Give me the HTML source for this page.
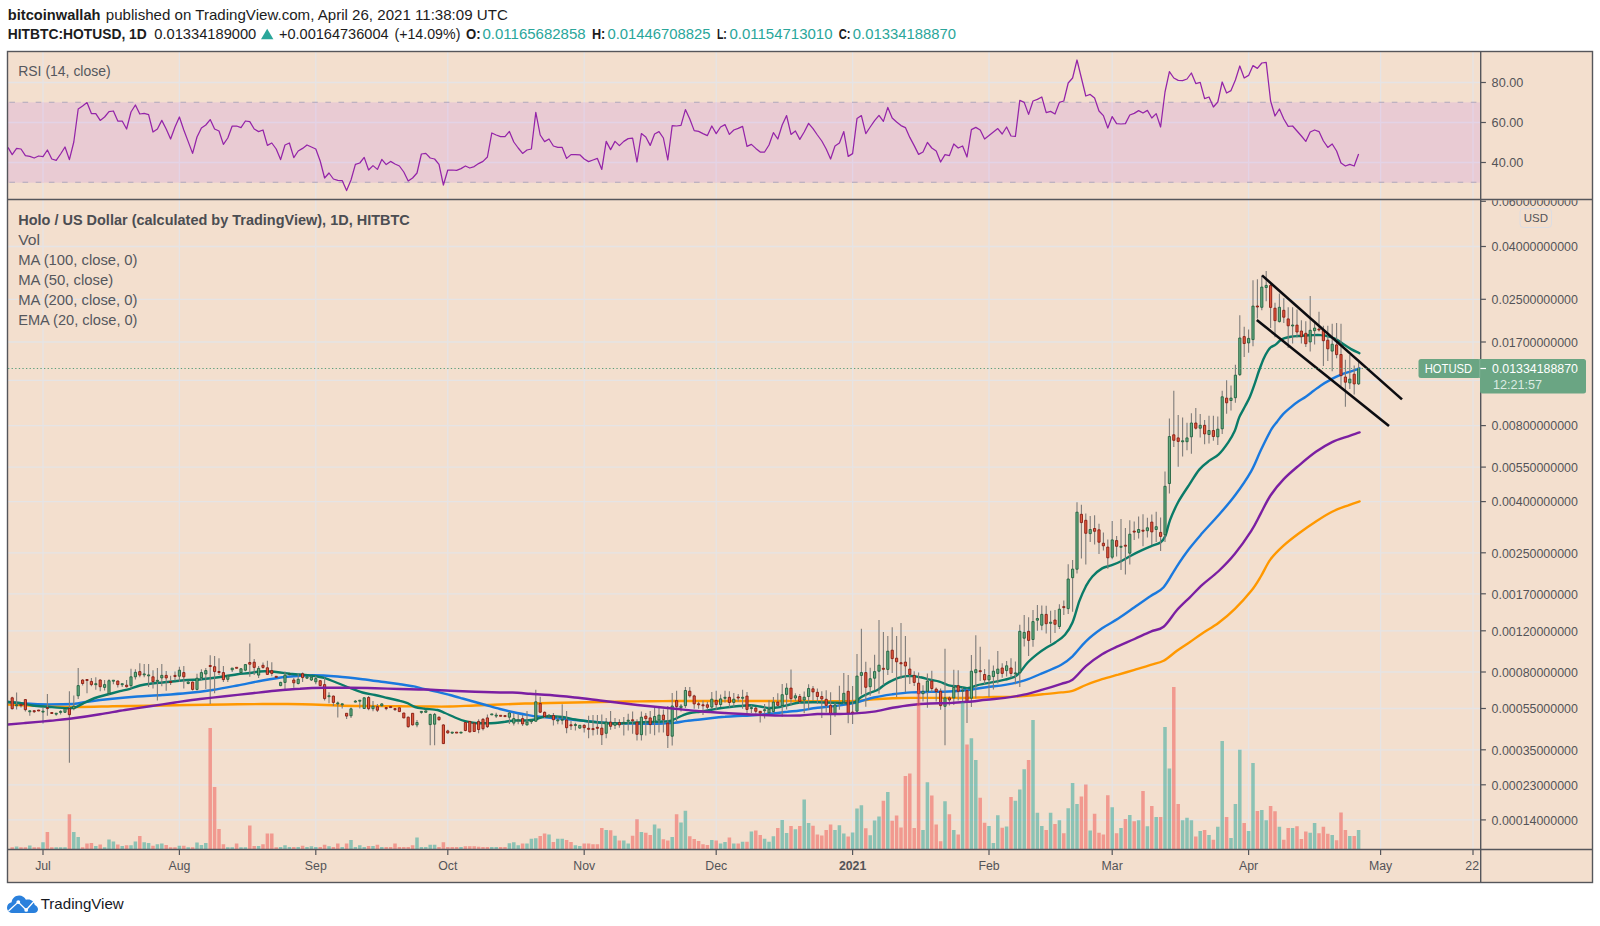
<!DOCTYPE html>
<html lang="en"><head><meta charset="utf-8"><title>HOTUSD chart</title>
<style>html,body{margin:0;padding:0;background:#fff;width:1600px;height:926px;overflow:hidden}</style></head>
<body>
<svg width="1600" height="926" viewBox="0 0 1600 926" style="position:absolute;left:0;top:0;display:block">
<rect x="0" y="0" width="1600" height="926" fill="#ffffff"/>
<rect x="7" y="51" width="1586" height="832" fill="#f3dfce"/>
<g stroke="#e5e4e5" stroke-width="1.3" fill="none">
<path d="M43.0 52V849"/>
<path d="M179.4 52V849"/>
<path d="M315.8 52V849"/>
<path d="M447.8 52V849"/>
<path d="M584.2 52V849"/>
<path d="M716.2 52V849"/>
<path d="M852.6 52V849"/>
<path d="M989.0 52V849"/>
<path d="M1112.2 52V849"/>
<path d="M1248.6 52V849"/>
<path d="M1380.6 52V849"/>
<path d="M1473.0 52V849"/>
<path d="M8 82.5H1480"/>
<path d="M8 122.5H1480"/>
<path d="M8 162.5H1480"/>
<path d="M8 246.5H1480"/>
<path d="M8 299.3H1480"/>
<path d="M8 342.0H1480"/>
<path d="M8 380.4H1480"/>
<path d="M8 425.6H1480"/>
<path d="M8 467.1H1480"/>
<path d="M8 501.6H1480"/>
<path d="M8 552.8H1480"/>
<path d="M8 593.8H1480"/>
<path d="M8 630.8H1480"/>
<path d="M8 672.0H1480"/>
<path d="M8 708.5H1480"/>
<path d="M8 749.8H1480"/>
<path d="M8 784.8H1480"/>
<path d="M8 819.9H1480"/>
</g>
<rect x="8" y="102.4" width="1472" height="80.3" fill="#e9cbd3"/>
<g stroke="#e3d3e6" stroke-width="1.3" fill="none">
<path d="M43.0 102V182"/>
<path d="M179.4 102V182"/>
<path d="M315.8 102V182"/>
<path d="M447.8 102V182"/>
<path d="M584.2 102V182"/>
<path d="M716.2 102V182"/>
<path d="M852.6 102V182"/>
<path d="M989.0 102V182"/>
<path d="M1112.2 102V182"/>
<path d="M1248.6 102V182"/>
<path d="M1380.6 102V182"/>
<path d="M1473.0 102V182"/>
<path d="M8 122.5H1480"/>
<path d="M8 162.5H1480"/>
</g>
<g stroke="#afa8bc" stroke-width="1.1" stroke-dasharray="5.6 7.566" stroke-dashoffset="11.8" fill="none"><path d="M8 102.2H1480"/><path d="M8 182.3H1480"/></g>
<clipPath id="cm"><rect x="8" y="200" width="1472" height="649"/></clipPath>
<clipPath id="cr"><rect x="8" y="52" width="1472" height="147"/></clipPath>
<g clip-path="url(#cm)">
<path clip-path="url(#cm)" d="M8.0 704.5C12.9 704.7 26.3 705.3 37.5 705.8C48.7 706.2 62.5 706.9 75.0 707.0C87.5 707.1 100.0 706.5 112.5 706.2C125.0 706.0 137.5 706.0 150.0 705.8C162.5 705.5 175.0 705.2 187.5 705.0C200.0 704.8 212.5 704.7 225.0 704.5C237.5 704.3 252.1 704.1 262.5 704.0C272.9 703.9 279.2 703.9 287.5 704.0C295.8 704.1 304.2 704.2 312.5 704.5C320.8 704.8 329.2 705.2 337.5 705.5C345.8 705.8 352.1 705.9 362.5 706.0C372.9 706.1 389.6 706.2 400.0 706.2C410.4 706.3 416.7 706.5 425.0 706.5C433.3 706.5 441.7 706.7 450.0 706.5C458.3 706.3 466.7 705.8 475.0 705.5C483.3 705.2 491.7 704.8 500.0 704.5C508.3 704.2 516.7 703.8 525.0 703.5C533.3 703.2 541.7 703.2 550.0 703.0C558.3 702.8 566.7 702.7 575.0 702.5C583.3 702.3 591.7 702.2 600.0 702.0C608.3 701.8 616.7 701.6 625.0 701.5C633.3 701.4 641.7 701.3 650.0 701.2C658.3 701.2 666.7 701.0 675.0 701.0C683.3 701.0 691.7 701.0 700.0 701.0C708.3 701.0 716.7 701.0 725.0 701.0C733.3 701.0 741.7 701.0 750.0 701.0C758.3 701.0 766.7 701.0 775.0 701.0C783.3 701.0 792.9 701.0 800.0 701.0C807.1 701.0 811.5 701.2 817.5 701.3C823.5 701.3 830.0 701.3 836.3 701.3C842.5 701.2 848.8 701.2 855.0 700.9C861.3 700.6 867.5 699.8 873.8 699.4C880.0 698.9 886.3 698.5 892.5 698.3C898.8 698.0 905.0 697.9 911.3 697.9C917.5 697.8 923.8 697.9 930.0 697.9C936.3 697.9 942.5 697.9 948.8 697.9C955.0 697.9 961.3 698.0 967.5 697.9C973.8 697.8 980.0 697.3 986.3 697.1C992.5 697.0 998.8 697.1 1005.0 696.9C1011.3 696.8 1017.5 696.4 1023.8 696.0C1030.0 695.6 1036.3 694.9 1042.5 694.3C1048.8 693.7 1056.3 693.0 1061.3 692.4C1066.3 691.9 1068.4 692.2 1072.5 690.9C1076.6 689.7 1081.0 687.0 1085.9 685.0C1090.8 683.1 1096.7 680.9 1102.1 679.2C1107.5 677.5 1112.9 676.2 1118.3 674.7C1123.7 673.1 1129.1 671.4 1134.5 669.8C1139.9 668.2 1145.8 666.5 1150.7 664.9C1155.5 663.4 1159.3 663.0 1163.6 660.7C1168.0 658.4 1172.3 654.1 1176.6 651.0C1180.9 647.9 1185.2 645.2 1189.6 642.3C1193.9 639.3 1197.7 636.4 1202.5 633.2C1207.4 630.0 1213.3 626.9 1218.7 622.8C1224.1 618.8 1229.5 614.2 1234.9 608.9C1240.3 603.6 1246.8 596.5 1251.1 591.1C1255.4 585.7 1257.6 581.8 1260.8 576.5C1264.0 571.2 1266.7 564.5 1270.5 559.4C1274.3 554.2 1278.6 550.2 1283.5 545.7C1288.3 541.3 1294.3 536.8 1299.7 532.8C1305.1 528.7 1310.5 525.0 1315.9 521.5C1321.3 517.9 1326.7 514.4 1332.1 511.7C1337.5 509.0 1343.7 507.0 1348.3 505.3C1352.8 503.5 1357.7 502.0 1359.6 501.4" stroke="#ff9800" stroke-width="2.4" fill="none" stroke-linejoin="round" stroke-linecap="round"/>
<path clip-path="url(#cm)" d="M8.0 702.0C10.0 702.2 15.1 702.9 20.0 703.2C24.9 703.6 30.4 704.1 37.5 704.2C44.6 704.4 56.2 704.3 62.5 704.2C68.8 704.2 70.8 704.2 75.0 703.8C79.2 703.3 81.2 702.6 87.5 701.8C93.8 700.9 104.2 699.6 112.5 698.8C120.8 697.9 129.2 697.1 137.5 696.5C145.8 695.9 154.2 695.6 162.5 695.0C170.8 694.4 179.2 693.8 187.5 693.0C195.8 692.2 204.2 691.2 212.5 690.0C220.8 688.8 229.2 687.1 237.5 685.5C245.8 683.9 254.2 682.0 262.5 680.5C270.8 679.0 279.2 677.6 287.5 676.8C295.8 675.9 304.2 675.3 312.5 675.2C320.8 675.2 329.2 675.8 337.5 676.5C345.8 677.2 354.2 678.2 362.5 679.2C370.8 680.2 381.2 681.7 387.5 682.5C393.8 683.3 395.8 683.6 400.0 684.2C404.2 684.9 408.3 685.4 412.5 686.2C416.7 687.1 420.8 688.3 425.0 689.2C429.2 690.2 433.3 690.8 437.5 691.8C441.7 692.7 445.8 693.9 450.0 695.0C454.2 696.1 458.3 697.3 462.5 698.5C466.7 699.7 470.8 700.8 475.0 702.0C479.2 703.2 483.3 704.3 487.5 705.5C491.7 706.7 495.8 707.9 500.0 709.0C504.2 710.1 508.3 711.1 512.5 712.0C516.7 712.9 520.8 713.8 525.0 714.5C529.2 715.2 533.3 716.0 537.5 716.5C541.7 717.0 545.8 717.4 550.0 717.8C554.2 718.1 558.3 718.4 562.5 718.8C566.7 719.1 570.8 719.6 575.0 720.0C579.2 720.4 583.3 720.8 587.5 721.2C591.7 721.7 595.8 722.2 600.0 722.5C604.2 722.8 608.3 723.1 612.5 723.2C616.7 723.4 620.8 723.4 625.0 723.5C629.2 723.6 633.3 723.7 637.5 723.8C641.7 723.8 645.8 723.8 650.0 723.8C654.2 723.7 658.3 723.7 662.5 723.5C666.7 723.3 670.8 723.2 675.0 722.8C679.2 722.3 683.3 721.3 687.5 720.8C691.7 720.2 695.8 720.0 700.0 719.5C704.2 719.0 708.3 718.5 712.5 718.0C716.7 717.5 720.8 717.1 725.0 716.8C729.2 716.4 733.3 716.2 737.5 716.0C741.7 715.8 745.8 715.8 750.0 715.5C754.2 715.2 758.3 714.9 762.5 714.5C766.7 714.1 770.8 713.7 775.0 713.2C779.2 712.8 783.3 712.2 787.5 711.8C791.7 711.3 795.0 711.2 800.0 710.5C805.0 709.8 811.5 708.6 817.5 707.8C823.5 707.1 830.0 706.8 836.3 705.9C842.5 705.1 848.8 704.2 855.0 702.8C861.3 701.4 867.5 698.9 873.8 697.5C880.0 696.1 886.3 695.2 892.5 694.3C898.8 693.5 905.0 692.8 911.3 692.4C917.5 692.0 923.8 692.0 930.0 691.9C936.3 691.7 942.5 691.8 948.8 691.5C955.0 691.2 961.3 690.7 967.5 690.0C973.8 689.3 980.0 688.0 986.3 687.2C992.5 686.3 998.8 686.0 1005.0 684.9C1011.3 683.8 1017.5 682.6 1023.8 680.6C1030.0 678.7 1036.3 675.8 1042.5 673.1C1048.8 670.5 1056.3 667.5 1061.3 664.7C1066.3 661.9 1068.4 660.2 1072.5 656.3C1076.6 652.4 1081.0 645.9 1085.9 641.3C1090.8 636.6 1096.7 632.1 1102.1 628.3C1107.5 624.6 1112.9 622.1 1118.3 618.6C1123.7 615.1 1129.1 611.1 1134.5 607.3C1139.9 603.5 1145.8 599.3 1150.7 596.0C1155.5 592.6 1159.3 592.1 1163.6 587.2C1168.0 582.3 1172.3 573.3 1176.6 566.8C1180.9 560.3 1185.2 554.0 1189.6 548.3C1193.9 542.7 1197.7 538.4 1202.5 532.8C1207.4 527.2 1213.3 521.2 1218.7 515.0C1224.1 508.8 1229.5 502.8 1234.9 495.5C1240.3 488.3 1246.8 478.8 1251.1 471.3C1255.4 463.7 1257.5 457.1 1260.8 450.2C1264.1 443.3 1268.3 434.7 1271.0 430.0C1273.7 425.2 1275.1 424.3 1277.1 421.7C1279.1 419.0 1280.9 416.5 1283.1 414.1C1285.4 411.7 1288.2 409.4 1290.7 407.3C1293.2 405.2 1295.7 403.3 1298.2 401.6C1300.8 399.8 1303.3 398.5 1305.8 396.7C1308.3 395.0 1310.8 392.9 1313.3 391.0C1315.9 389.1 1318.4 387.1 1320.9 385.4C1323.4 383.7 1325.9 382.3 1328.5 380.9C1331.0 379.4 1333.5 378.0 1336.0 376.8C1338.5 375.6 1341.1 374.7 1343.6 373.7C1346.1 372.8 1348.9 372.1 1351.1 371.3C1353.4 370.6 1355.8 369.7 1357.2 369.2C1358.6 368.7 1359.1 368.5 1359.4 368.3" stroke="#1a79de" stroke-width="2.4" fill="none" stroke-linejoin="round" stroke-linecap="round"/>
<path clip-path="url(#cm)" d="M8.0 702.0C10.0 702.2 15.9 702.4 20.0 703.0C24.1 703.6 27.5 704.8 32.5 705.5C37.5 706.2 44.2 706.5 50.0 707.0C55.8 707.5 63.3 708.2 67.5 708.2C71.7 708.3 72.5 708.2 75.0 707.5C77.5 706.8 79.2 705.3 82.5 703.8C85.8 702.2 90.8 699.5 95.0 698.0C99.2 696.5 103.3 695.6 107.5 694.5C111.7 693.4 116.2 692.2 120.0 691.2C123.8 690.3 126.7 689.7 130.0 688.8C133.3 687.8 136.7 686.3 140.0 685.5C143.3 684.7 146.2 684.2 150.0 683.8C153.8 683.2 158.3 682.9 162.5 682.5C166.7 682.1 170.8 681.7 175.0 681.2C179.2 680.8 183.3 680.3 187.5 680.0C191.7 679.7 195.8 679.8 200.0 679.5C204.2 679.2 208.3 678.5 212.5 678.0C216.7 677.5 220.8 676.9 225.0 676.2C229.2 675.6 233.3 674.8 237.5 674.2C241.7 673.7 246.2 673.5 250.0 673.0C253.8 672.5 256.7 671.8 260.0 671.5C263.3 671.2 266.7 671.3 270.0 671.5C273.3 671.7 276.7 672.1 280.0 672.5C283.3 672.9 286.7 673.4 290.0 673.8C293.3 674.1 296.2 674.2 300.0 674.5C303.8 674.8 308.3 675.1 312.5 675.8C316.7 676.4 320.8 677.0 325.0 678.2C329.2 679.5 333.3 681.4 337.5 683.0C341.7 684.6 345.8 686.4 350.0 688.0C354.2 689.6 358.3 691.3 362.5 692.5C366.7 693.7 370.8 694.1 375.0 695.0C379.2 695.9 383.3 697.0 387.5 698.0C391.7 699.0 396.7 699.9 400.0 700.8C403.3 701.6 405.0 702.2 407.5 703.2C410.0 704.3 412.1 706.1 415.0 707.0C417.9 707.9 421.2 708.2 425.0 708.8C428.8 709.2 434.2 709.3 437.5 710.0C440.8 710.7 442.1 711.8 445.0 713.0C447.9 714.2 451.7 716.1 455.0 717.5C458.3 718.9 461.7 720.3 465.0 721.2C468.3 722.2 471.7 722.7 475.0 723.0C478.3 723.3 481.7 723.2 485.0 723.2C488.3 723.2 491.7 723.2 495.0 723.0C498.3 722.8 501.7 722.2 505.0 721.8C508.3 721.3 511.7 720.7 515.0 720.5C518.3 720.3 521.7 720.7 525.0 720.5C528.3 720.3 532.1 720.1 535.0 719.5C537.9 718.9 540.0 717.5 542.5 717.0C545.0 716.5 546.7 716.2 550.0 716.2C553.3 716.2 558.3 716.5 562.5 717.0C566.7 717.5 570.8 718.8 575.0 719.5C579.2 720.2 583.3 720.8 587.5 721.2C591.7 721.8 595.8 722.1 600.0 722.5C604.2 722.9 608.3 723.4 612.5 723.5C616.7 723.6 620.8 723.4 625.0 723.2C629.2 723.1 633.3 722.7 637.5 722.5C641.7 722.3 645.8 722.2 650.0 722.0C654.2 721.8 659.2 721.7 662.5 721.5C665.8 721.3 667.9 721.4 670.0 721.0C672.1 720.6 672.9 719.9 675.0 719.0C677.1 718.1 680.0 716.5 682.5 715.5C685.0 714.5 687.1 713.6 690.0 713.0C692.9 712.4 696.7 712.2 700.0 711.8C703.3 711.2 706.7 710.6 710.0 710.0C713.3 709.4 716.7 708.8 720.0 708.2C723.3 707.8 726.7 707.4 730.0 707.0C733.3 706.6 736.7 706.3 740.0 706.0C743.3 705.7 746.7 705.2 750.0 705.2C753.3 705.3 756.7 706.0 760.0 706.5C763.3 707.0 766.7 707.9 770.0 708.0C773.3 708.1 776.7 707.6 780.0 707.0C783.3 706.4 786.7 705.2 790.0 704.5C793.3 703.8 795.4 702.9 800.0 702.5C804.6 702.1 811.5 702.2 817.5 702.2C823.5 702.2 831.6 702.6 836.3 702.8C840.9 702.9 842.5 703.2 845.6 703.1C848.8 703.0 852.5 703.1 855.0 702.2C857.5 701.3 858.1 699.1 860.6 697.5C863.1 695.9 867.2 694.1 870.0 692.8C872.8 691.6 875.0 691.4 877.5 690.0C880.0 688.6 882.5 686.0 885.0 684.4C887.5 682.8 889.7 681.5 892.5 680.3C895.3 679.0 898.8 677.6 901.9 676.9C905.0 676.2 908.1 675.9 911.3 675.9C914.4 676.0 917.5 676.6 920.6 677.3C923.8 677.9 926.9 679.0 930.0 679.7C933.1 680.4 936.3 680.6 939.4 681.6C942.5 682.5 945.6 684.5 948.8 685.3C951.9 686.2 955.0 686.2 958.1 686.6C961.3 687.1 964.4 688.3 967.5 688.1C970.6 687.9 973.8 686.1 976.9 685.3C980.0 684.5 983.1 684.1 986.3 683.4C989.4 682.8 992.5 682.2 995.6 681.6C998.8 680.9 1001.9 680.5 1005.0 679.7C1008.1 678.9 1011.9 678.1 1014.4 676.9C1016.9 675.6 1017.8 674.5 1020.0 672.2C1022.2 669.8 1024.7 665.8 1027.5 662.8C1030.3 659.8 1033.8 656.9 1036.9 654.4C1040.0 651.9 1043.1 649.8 1046.3 647.8C1049.4 645.8 1052.5 644.4 1055.6 642.2C1058.8 640.0 1062.2 638.0 1065.0 634.7C1067.8 631.4 1070.1 628.1 1072.5 622.5C1074.9 616.9 1077.2 606.9 1079.4 600.8C1081.7 594.8 1083.8 590.3 1085.9 586.2C1088.1 582.2 1089.7 579.5 1092.4 576.5C1095.1 573.5 1098.9 570.3 1102.1 568.4C1105.3 566.5 1108.6 566.4 1111.8 565.2C1115.1 563.9 1118.3 562.6 1121.5 561.0C1124.8 559.4 1128.0 557.2 1131.3 555.5C1134.5 553.7 1137.7 552.1 1141.0 550.6C1144.2 549.1 1147.4 547.7 1150.7 546.4C1153.9 545.0 1158.0 544.2 1160.4 542.5C1162.8 540.8 1163.6 539.8 1165.3 536.0C1166.9 532.3 1168.0 525.5 1170.1 519.8C1172.3 514.2 1175.0 508.0 1178.2 502.0C1181.5 496.1 1186.0 489.6 1189.6 484.2C1193.1 478.8 1196.0 473.5 1199.3 469.6C1202.5 465.7 1205.7 463.4 1209.0 460.9C1212.2 458.4 1215.5 457.5 1218.7 454.4C1221.9 451.3 1225.7 446.1 1228.4 442.1C1231.1 438.2 1232.9 434.9 1234.8 430.7C1236.6 426.6 1237.5 421.3 1239.3 417.1C1241.1 413.0 1243.6 409.2 1245.3 405.8C1247.1 402.4 1248.4 400.2 1249.9 396.7C1251.4 393.2 1252.9 388.9 1254.4 384.6C1255.9 380.3 1257.4 375.3 1258.9 371.0C1260.5 366.7 1262.0 362.3 1263.5 358.9C1265.0 355.5 1266.7 352.6 1268.0 350.6C1269.3 348.7 1269.8 348.2 1271.0 347.2C1272.3 346.1 1274.1 345.7 1275.6 344.6C1277.1 343.5 1278.6 341.6 1280.1 340.5C1281.6 339.4 1282.9 338.7 1284.6 338.1C1286.4 337.5 1288.4 337.1 1290.7 336.7C1292.9 336.4 1295.7 336.2 1298.2 336.0C1300.8 335.8 1303.3 335.7 1305.8 335.5C1308.3 335.4 1310.8 335.1 1313.3 335.1C1315.9 335.0 1318.6 334.9 1320.9 335.1C1323.2 335.2 1324.9 335.5 1326.9 336.0C1329.0 336.4 1331.0 336.9 1333.0 337.8C1335.0 338.6 1337.0 339.8 1339.0 341.1C1341.1 342.4 1343.1 344.0 1345.1 345.3C1347.1 346.7 1349.1 348.0 1351.1 349.1C1353.1 350.2 1355.8 351.5 1357.2 352.1C1358.6 352.8 1359.1 353.0 1359.4 353.2" stroke="#0a7b68" stroke-width="2.4" fill="none" stroke-linejoin="round" stroke-linecap="round"/>
<path d="M12.2 696.8V709.5M16.6 692.6V709.5M21.0 703.9V707.4M25.4 698.9V711.6M29.8 710.2V715.8M34.2 709.9V713.0M38.6 710.0V711.0M43.0 707.4V723.5M47.4 694.0V715.8M51.8 712.3V713.7M56.2 713.0V715.8M60.6 710.2V714.4M65.0 708.1V713.0M69.4 691.2V762.8M73.8 695.4V710.2M78.2 668.1V698.9M82.6 679.3V685.6M87.0 679.3V693.3M91.4 677.9V686.3M95.8 677.2V689.8M100.2 679.3V691.2M104.6 680.0V690.5M109.0 679.3V694.7M113.4 680.0V684.2M117.8 680.4V687.4M122.2 683.5V687.0M126.6 680.0V687.4M131.0 668.8V688.4M135.4 669.2V679.6M139.8 663.2V677.2M144.2 663.9V677.2M148.6 663.9V687.0M153.0 670.2V688.4M157.4 668.1V700.6M161.8 663.9V686.3M166.2 670.9V690.8M170.6 675.8V684.9M175.0 671.6V680.7M179.4 666.7V682.1M183.8 666.0V688.4M188.2 680.7V684.2M192.6 681.4V690.5M197.0 673.7V690.5M201.4 669.2V680.0M205.8 668.1V689.1M210.2 655.2V703.9M214.6 656.1V693.3M219.0 658.2V675.1M223.4 666.0V682.1M227.8 675.1V682.1M232.2 668.1V672.0M236.6 667.2V668.6M241.0 668.1V673.4M245.4 663.9V671.2M249.8 643.5V676.8M254.2 658.9V675.1M258.6 666.0V677.9M263.0 662.5V668.8M267.4 660.8V675.1M271.8 662.2V676.2M276.2 676.2V677.3M280.6 681.8V686.3M285.0 671.6V689.1M289.4 673.0V675.8M293.8 677.9V687.7M298.2 673.4V684.6M302.6 672.6V682.1M307.0 676.2V678.7M311.4 676.5V681.0M315.8 675.8V684.2M320.2 680.0V686.3M324.6 677.6V700.6M329.0 692.2V703.2M333.4 695.4V706.0M337.8 701.5V717.5M342.2 703.4V708.5M346.6 713.0V718.9M351.0 707.6V717.9M355.4 700.1V702.6M359.8 700.1V708.5M364.2 697.3V709.1M368.6 696.1V710.2M373.0 701.1V711.3M377.4 703.9V711.9M381.8 703.2V706.7M386.2 707.1V710.2M390.6 706.5V707.6M395.0 708.1V710.9M399.4 707.4V711.9M403.8 712.7V718.3M408.2 716.5V727.7M412.6 713.0V725.6M417.0 720.0V727.3M421.4 710.9V713.7M425.8 710.6V712.6M430.2 713.7V745.3M434.6 713.0V745.3M439.0 716.5V720.7M443.4 724.2V743.9M447.8 729.8V733.8M452.2 731.9V734.0M456.6 732.1V733.1M461.0 732.1V733.1M465.4 722.1V731.2M469.8 721.1V732.4M474.2 722.8V731.9M478.6 719.3V733.3M483.0 717.9V730.5M487.4 714.4V728.1M491.8 713.9V714.9M496.2 712.7V717.9M500.6 715.3V716.3M505.0 715.5V716.8M509.4 711.6V723.9M513.8 713.0V725.6M518.2 713.7V724.2M522.6 715.1V725.9M527.0 710.9V725.6M531.4 720.0V723.9M535.8 689.8V721.7M540.2 696.8V713.0M544.6 711.6V717.9M549.0 714.4V717.9M553.4 713.0V725.6M557.8 716.5V724.2M562.2 704.3V724.5M566.6 710.9V733.3M571.0 720.7V730.1M575.4 722.8V730.5M579.8 724.9V728.7M584.2 724.2V732.6M588.6 715.8V738.2M593.0 715.1V735.4M597.4 715.1V734.7M601.8 714.4V745.0M606.2 717.9V738.2M610.6 710.9V729.8M615.0 717.9V729.1M619.4 719.3V727.7M623.8 716.9V735.4M628.2 713.7V730.5M632.6 711.6V733.8M637.0 719.3V740.4M641.4 711.6V740.4M645.8 713.0V735.4M650.2 710.9V733.8M654.6 707.4V735.2M659.0 708.1V732.6M663.4 709.5V732.6M667.8 706.0V748.1M672.2 693.1V745.5M676.6 690.8V721.4M681.0 703.9V711.6M685.4 687.0V708.1M689.8 687.0V697.5M694.2 694.7V708.8M698.6 701.8V708.8M703.0 700.4V715.1M707.4 701.8V709.5M711.8 691.9V708.8M716.2 690.8V710.2M720.6 694.5V707.1M725.0 690.8V702.5M729.4 691.2V707.4M733.8 693.1V706.7M738.2 694.0V701.8M742.6 689.8V708.8M747.0 691.9V713.0M751.4 705.3V713.0M755.8 707.1V713.7M760.2 710.9V722.5M764.6 703.9V718.6M769.0 700.3V714.3M773.4 696.9V713.3M777.8 693.3V706.7M782.2 683.9V716.8M786.6 683.2V709.5M791.0 669.4V704.9M795.4 693.3V701.1M799.8 694.1V703.9M804.2 691.6V713.3M808.6 684.3V709.8M813.0 686.0V700.7M817.4 688.5V703.9M821.8 691.3V718.0M826.2 690.2V712.6M830.6 692.3V735.1M835.0 702.8V716.8M839.4 685.7V709.8M843.8 673.1V704.2M848.2 675.0V723.2M852.6 686.0V723.9M857.0 654.0V711.9M861.4 628.7V694.4M865.8 661.8V706.7M870.2 667.7V695.8M874.6 654.8V690.2M879.0 620.0V693.7M883.4 631.9V685.3M887.8 636.1V675.0M892.2 627.3V673.1M896.6 636.1V696.9M901.0 623.1V678.7M905.4 636.1V692.3M909.8 657.6V683.9M914.2 671.2V686.0M918.6 672.6V705.6M923.0 685.3V701.4M927.4 673.6V707.7M931.8 670.8V692.3M936.2 687.4V701.4M940.6 688.5V709.8M945.0 648.8V745.2M949.4 696.5V705.6M953.8 669.8V704.9M958.2 670.2V700.4M962.6 687.4V702.5M967.0 688.5V723.1M971.4 655.0V706.9M975.8 635.2V698.2M980.2 646.8V681.0M984.6 669.1V684.2M989.0 659.4V697.1M993.4 665.4V689.6M997.8 651.1V683.5M1002.2 663.2V677.7M1006.6 661.1V676.6M1011.0 658.3V677.7M1015.4 661.5V684.2M1019.8 624.8V687.0M1024.2 615.1V646.4M1028.6 617.2V656.1M1033.0 610.1V646.8M1037.4 604.9V630.8M1041.8 605.4V630.2M1046.2 605.8V633.4M1050.6 610.8V643.2M1055.0 610.1V633.0M1059.4 604.3V629.1M1063.8 600.6V615.1M1068.2 564.3V614.0M1072.6 560.0V611.8M1077.0 502.2V573.4M1081.4 504.8V558.4M1085.8 513.4V564.4M1090.2 516.0V541.9M1094.6 515.2V544.5M1099.0 523.8V554.0M1103.4 532.4V550.6M1107.8 539.4V568.7M1112.2 520.9V559.2M1116.6 535.9V556.6M1121.0 519.1V569.9M1125.4 528.1V574.4M1129.8 520.3V564.4M1134.2 521.6V539.9M1138.6 516.4V538.5M1143.0 514.3V546.3M1147.4 517.8V537.6M1151.8 514.6V545.1M1156.2 511.7V541.9M1160.6 517.4V550.9M1165.0 471.4V541.9M1169.4 418.4V493.5M1173.8 390.7V446.9M1178.2 414.9V466.7M1182.6 417.5V456.4M1187.0 422.7V450.3M1191.4 413.2V453.8M1195.8 408.0V429.6M1200.2 414.0V437.4M1204.6 420.1V444.3M1209.0 415.8V443.4M1213.4 415.8V440.8M1217.8 416.6V445.1M1222.2 390.7V433.9M1226.6 380.3V413.7M1231.0 385.5V410.6M1235.4 364.8V402.8M1239.8 315.2V376.0M1244.2 326.8V357.0M1248.6 329.4V352.7M1253.0 280.2V346.2M1257.4 279.2V318.6M1261.8 275.4V310.3M1266.2 271.0V301.3M1270.6 284.0V328.1M1275.0 302.7V337.2M1279.4 293.5V322.4M1283.8 298.2V322.9M1288.2 307.3V348.0M1292.6 307.3V343.6M1297.0 309.6V337.6M1301.4 320.3V343.6M1305.8 321.2V347.1M1310.2 296.1V351.4M1314.6 322.9V344.5M1319.0 311.7V331.5M1323.4 325.8V366.1M1327.8 325.8V360.9M1332.2 323.8V371.3M1336.6 322.9V358.3M1341.0 323.8V386.0M1345.4 359.7V406.7M1349.8 354.9V389.1M1354.2 365.6V394.6M1358.6 359.7V385.1" stroke="#7f7c7a" stroke-width="1.1" fill="none"/>
<path d="M15.50 704.8h2.2v1.0h-2.2zM28.70 710.8h2.2v1.0h-2.2zM41.90 711.1h2.2v1.0h-2.2zM55.10 713.2h2.2v1.0h-2.2zM59.50 711.4h2.2v1.0h-2.2zM63.90 708.5h2.2v3.8h-2.2zM72.70 706.2h2.2v2.5h-2.2zM77.10 685.6h2.2v10.2h-2.2zM94.70 683.7h2.2v1.0h-2.2zM103.50 684.6h2.2v2.8h-2.2zM107.90 680.7h2.2v12.9h-2.2zM112.30 680.2h2.2v1.0h-2.2zM121.10 683.7h2.2v1.0h-2.2zM129.90 676.8h2.2v8.8h-2.2zM134.30 672.3h2.2v4.5h-2.2zM143.10 673.9h2.2v1.0h-2.2zM147.50 674.9h2.2v1.0h-2.2zM156.30 680.3h2.2v1.0h-2.2zM160.70 675.4h2.2v2.5h-2.2zM178.30 670.2h2.2v6.0h-2.2zM187.10 682.1h2.2v1.4h-2.2zM195.90 678.2h2.2v11.2h-2.2zM200.30 672.6h2.2v5.1h-2.2zM204.70 670.6h2.2v3.4h-2.2zM226.70 675.8h2.2v3.5h-2.2zM231.10 668.1h2.2v1.7h-2.2zM239.90 668.8h2.2v3.8h-2.2zM244.30 664.6h2.2v5.6h-2.2zM257.50 668.4h2.2v6.7h-2.2zM279.50 682.4h2.2v3.2h-2.2zM283.90 675.1h2.2v7.3h-2.2zM288.30 673.5h2.2v1.0h-2.2zM297.10 679.3h2.2v4.2h-2.2zM305.90 676.8h2.2v1.4h-2.2zM310.30 677.2h2.2v2.8h-2.2zM314.70 678.6h2.2v3.2h-2.2zM327.90 695.7h2.2v1.0h-2.2zM336.70 702.9h2.2v1.0h-2.2zM341.10 703.8h2.2v1.0h-2.2zM349.90 708.8h2.2v7.0h-2.2zM354.30 701.1h2.2v1.0h-2.2zM358.70 700.2h2.2v1.0h-2.2zM363.10 697.8h2.2v10.7h-2.2zM371.90 706.2h2.2v2.5h-2.2zM380.70 703.9h2.2v1.8h-2.2zM415.90 722.5h2.2v2.4h-2.2zM420.30 711.4h2.2v1.0h-2.2zM424.70 710.9h2.2v1.4h-2.2zM429.10 714.4h2.2v10.2h-2.2zM433.50 714.4h2.2v9.8h-2.2zM451.10 732.1h2.2v1.0h-2.2zM459.90 732.1h2.2v1.0h-2.2zM490.70 713.9h2.2v1.0h-2.2zM495.10 715.1h2.2v1.0h-2.2zM508.30 713.0h2.2v4.2h-2.2zM512.70 718.6h2.2v4.5h-2.2zM517.10 719.9h2.2v1.0h-2.2zM525.90 722.1h2.2v2.8h-2.2zM530.30 720.7h2.2v1.0h-2.2zM534.70 701.8h2.2v19.4h-2.2zM547.90 715.1h2.2v1.8h-2.2zM556.70 719.9h2.2v1.0h-2.2zM561.10 719.3h2.2v1.0h-2.2zM574.30 724.5h2.2v1.0h-2.2zM578.70 725.3h2.2v2.8h-2.2zM605.10 722.1h2.2v11.2h-2.2zM613.90 722.5h2.2v2.8h-2.2zM622.70 722.3h2.2v1.0h-2.2zM627.10 720.2h2.2v1.0h-2.2zM640.30 717.2h2.2v17.5h-2.2zM653.50 716.5h2.2v5.3h-2.2zM657.90 715.1h2.2v4.9h-2.2zM671.10 706.0h2.2v30.2h-2.2zM679.90 706.0h2.2v1.7h-2.2zM684.30 690.5h2.2v15.2h-2.2zM710.70 699.2h2.2v7.9h-2.2zM719.50 698.9h2.2v5.6h-2.2zM723.90 697.3h2.2v1.0h-2.2zM732.70 699.2h2.2v3.2h-2.2zM741.50 697.3h2.2v1.0h-2.2zM750.30 707.6h2.2v1.0h-2.2zM763.50 709.7h2.2v1.0h-2.2zM767.90 709.1h2.2v3.8h-2.2zM772.30 702.1h2.2v9.4h-2.2zM781.10 694.7h2.2v10.7h-2.2zM785.50 688.1h2.2v6.3h-2.2zM794.30 695.8h2.2v2.2h-2.2zM803.10 697.2h2.2v2.8h-2.2zM807.50 688.5h2.2v8.0h-2.2zM833.90 704.9h2.2v8.4h-2.2zM838.30 702.6h2.2v1.0h-2.2zM842.70 693.3h2.2v8.8h-2.2zM855.90 676.1h2.2v35.1h-2.2zM860.30 672.6h2.2v2.8h-2.2zM869.10 678.7h2.2v8.0h-2.2zM873.50 671.6h2.2v6.6h-2.2zM877.90 665.2h2.2v6.0h-2.2zM886.70 651.2h2.2v18.2h-2.2zM921.90 691.3h2.2v2.4h-2.2zM926.30 681.1h2.2v10.2h-2.2zM943.90 697.9h2.2v8.4h-2.2zM952.70 687.4h2.2v10.5h-2.2zM961.50 690.2h2.2v1.0h-2.2zM970.30 671.2h2.2v27.0h-2.2zM974.70 669.7h2.2v3.0h-2.2zM987.90 675.6h2.2v4.3h-2.2zM992.30 671.2h2.2v5.4h-2.2zM996.70 669.1h2.2v4.3h-2.2zM1005.50 665.8h2.2v4.8h-2.2zM1014.30 672.9h2.2v1.0h-2.2zM1018.70 631.3h2.2v41.5h-2.2zM1023.10 632.4h2.2v5.8h-2.2zM1031.90 621.6h2.2v17.9h-2.2zM1036.30 618.5h2.2v1.7h-2.2zM1040.70 614.4h2.2v10.8h-2.2zM1049.50 622.2h2.2v1.1h-2.2zM1058.30 609.2h2.2v17.3h-2.2zM1067.10 579.0h2.2v29.6h-2.2zM1071.50 569.1h2.2v8.6h-2.2zM1075.90 512.2h2.2v57.0h-2.2zM1089.10 529.5h2.2v4.1h-2.2zM1111.10 539.9h2.2v17.3h-2.2zM1119.90 546.3h2.2v1.0h-2.2zM1128.70 534.2h2.2v19.0h-2.2zM1137.50 529.5h2.2v2.9h-2.2zM1146.30 527.8h2.2v2.9h-2.2zM1155.10 526.7h2.2v2.8h-2.2zM1163.90 486.3h2.2v48.4h-2.2zM1168.30 436.5h2.2v47.0h-2.2zM1181.50 440.8h2.2v1.0h-2.2zM1185.90 437.9h2.2v3.8h-2.2zM1190.30 423.0h2.2v13.8h-2.2zM1199.10 425.3h2.2v2.9h-2.2zM1207.90 430.5h2.2v4.0h-2.2zM1216.70 429.2h2.2v7.6h-2.2zM1221.10 396.8h2.2v32.0h-2.2zM1229.90 398.1h2.2v2.4h-2.2zM1234.30 375.2h2.2v22.5h-2.2zM1238.70 338.0h2.2v36.6h-2.2zM1247.50 338.4h2.2v4.5h-2.2zM1251.90 306.1h2.2v33.5h-2.2zM1260.70 287.1h2.2v20.2h-2.2zM1265.10 285.4h2.2v2.1h-2.2zM1278.30 307.3h2.2v14.3h-2.2zM1291.50 325.0h2.2v1.0h-2.2zM1309.10 330.3h2.2v11.6h-2.2zM1313.50 328.1h2.2v2.6h-2.2zM1331.10 344.2h2.2v6.9h-2.2zM1348.70 379.1h2.2v3.8h-2.2zM1357.50 368.7h2.2v15.2h-2.2z" fill="#66aa82" stroke="#1b5e3b" stroke-width="0.85"/>
<path d="M11.10 697.8h2.2v10.9h-2.2zM19.90 704.3h2.2v1.4h-2.2zM24.30 699.6h2.2v10.1h-2.2zM33.10 710.7h2.2v1.0h-2.2zM37.50 710.0h2.2v1.0h-2.2zM46.30 707.6h2.2v1.0h-2.2zM50.70 712.5h2.2v1.0h-2.2zM68.30 708.5h2.2v6.2h-2.2zM81.50 680.0h2.2v3.5h-2.2zM85.90 679.5h2.2v1.0h-2.2zM90.30 681.4h2.2v3.2h-2.2zM99.10 680.0h2.2v6.7h-2.2zM116.70 681.0h2.2v3.6h-2.2zM125.50 685.2h2.2v1.5h-2.2zM138.70 671.6h2.2v3.5h-2.2zM151.90 676.8h2.2v4.8h-2.2zM165.10 675.4h2.2v2.5h-2.2zM169.50 681.6h2.2v1.0h-2.2zM173.90 675.4h2.2v1.1h-2.2zM182.70 672.6h2.2v4.2h-2.2zM191.50 682.1h2.2v7.3h-2.2zM209.10 665.5h2.2v1.0h-2.2zM213.50 666.7h2.2v4.9h-2.2zM217.90 671.5h2.2v1.0h-2.2zM222.30 672.6h2.2v7.0h-2.2zM235.50 667.3h2.2v1.0h-2.2zM248.70 662.5h2.2v1.7h-2.2zM253.10 662.2h2.2v5.2h-2.2zM261.90 665.3h2.2v2.1h-2.2zM266.30 667.8h2.2v6.6h-2.2zM270.70 670.6h2.2v2.8h-2.2zM275.10 676.3h2.2v1.0h-2.2zM292.70 680.0h2.2v2.8h-2.2zM301.50 673.7h2.2v3.9h-2.2zM319.10 680.7h2.2v4.9h-2.2zM323.50 684.6h2.2v14.0h-2.2zM332.30 696.1h2.2v6.3h-2.2zM345.50 713.3h2.2v2.8h-2.2zM367.50 697.5h2.2v11.2h-2.2zM376.30 706.7h2.2v3.5h-2.2zM385.10 707.6h2.2v1.0h-2.2zM389.50 706.6h2.2v1.0h-2.2zM393.90 708.6h2.2v1.0h-2.2zM398.30 707.8h2.2v3.8h-2.2zM402.70 713.0h2.2v4.9h-2.2zM407.10 717.2h2.2v9.5h-2.2zM411.50 713.3h2.2v11.6h-2.2zM437.90 717.2h2.2v2.5h-2.2zM442.30 724.9h2.2v18.7h-2.2zM446.70 730.9h2.2v2.0h-2.2zM455.50 732.1h2.2v1.0h-2.2zM464.30 722.5h2.2v8.0h-2.2zM468.70 721.4h2.2v10.5h-2.2zM473.10 723.1h2.2v8.4h-2.2zM477.50 721.4h2.2v8.1h-2.2zM481.90 719.3h2.2v9.4h-2.2zM486.30 717.9h2.2v8.8h-2.2zM499.50 715.3h2.2v1.0h-2.2zM503.90 715.6h2.2v1.0h-2.2zM521.50 718.6h2.2v5.3h-2.2zM539.10 703.4h2.2v8.8h-2.2zM543.50 712.3h2.2v4.2h-2.2zM552.30 715.5h2.2v4.2h-2.2zM565.50 720.0h2.2v7.7h-2.2zM569.90 724.8h2.2v1.0h-2.2zM583.10 725.3h2.2v2.4h-2.2zM587.50 728.3h2.2v1.0h-2.2zM591.90 728.6h2.2v1.0h-2.2zM596.30 727.3h2.2v1.0h-2.2zM600.70 728.1h2.2v6.6h-2.2zM609.50 722.1h2.2v4.2h-2.2zM618.30 722.5h2.2v2.4h-2.2zM631.50 719.8h2.2v1.0h-2.2zM635.90 722.1h2.2v12.2h-2.2zM644.70 716.1h2.2v2.5h-2.2zM649.10 717.9h2.2v6.7h-2.2zM662.30 715.1h2.2v4.6h-2.2zM666.70 723.1h2.2v12.4h-2.2zM675.50 700.6h2.2v6.0h-2.2zM688.70 691.2h2.2v4.6h-2.2zM693.10 695.9h2.2v8.0h-2.2zM697.50 703.8h2.2v1.0h-2.2zM701.90 704.8h2.2v1.0h-2.2zM706.30 704.8h2.2v2.5h-2.2zM715.10 700.4h2.2v4.2h-2.2zM728.30 697.3h2.2v5.2h-2.2zM737.10 697.0h2.2v1.0h-2.2zM745.90 696.1h2.2v13.3h-2.2zM754.70 708.1h2.2v3.2h-2.2zM759.10 711.3h2.2v1.7h-2.2zM776.70 702.1h2.2v3.2h-2.2zM789.90 688.1h2.2v10.5h-2.2zM798.70 696.5h2.2v4.9h-2.2zM811.90 688.8h2.2v3.1h-2.2zM816.30 692.3h2.2v4.2h-2.2zM820.70 696.5h2.2v2.4h-2.2zM825.10 699.3h2.2v6.0h-2.2zM829.50 705.3h2.2v8.4h-2.2zM847.10 691.3h2.2v22.0h-2.2zM851.50 712.1h2.2v1.0h-2.2zM864.70 672.6h2.2v14.7h-2.2zM882.30 668.3h2.2v1.0h-2.2zM891.10 650.2h2.2v8.4h-2.2zM895.50 658.2h2.2v3.6h-2.2zM899.90 662.7h2.2v1.1h-2.2zM904.30 662.1h2.2v3.9h-2.2zM908.70 669.1h2.2v5.3h-2.2zM913.10 675.4h2.2v7.0h-2.2zM917.50 683.2h2.2v10.5h-2.2zM930.70 681.1h2.2v7.4h-2.2zM935.10 689.1h2.2v2.5h-2.2zM939.50 691.3h2.2v14.3h-2.2zM948.30 697.9h2.2v2.1h-2.2zM957.10 685.7h2.2v5.6h-2.2zM965.90 690.7h2.2v10.8h-2.2zM979.10 670.7h2.2v1.0h-2.2zM983.50 674.5h2.2v5.4h-2.2zM1001.10 668.0h2.2v5.4h-2.2zM1009.90 668.0h2.2v5.4h-2.2zM1027.50 631.3h2.2v9.1h-2.2zM1045.10 614.4h2.2v9.3h-2.2zM1053.90 620.0h2.2v4.3h-2.2zM1062.70 606.6h2.2v1.0h-2.2zM1080.30 514.3h2.2v8.3h-2.2zM1084.70 520.3h2.2v13.0h-2.2zM1093.50 528.5h2.2v2.8h-2.2zM1097.90 529.8h2.2v12.4h-2.2zM1102.30 543.2h2.2v2.6h-2.2zM1106.70 547.1h2.2v10.7h-2.2zM1115.50 540.6h2.2v5.7h-2.2zM1124.30 545.2h2.2v1.0h-2.2zM1133.10 531.1h2.2v1.0h-2.2zM1141.90 530.2h2.2v1.0h-2.2zM1150.70 522.1h2.2v9.8h-2.2zM1159.50 532.4h2.2v4.0h-2.2zM1172.70 434.8h2.2v5.5h-2.2zM1177.10 437.9h2.2v3.5h-2.2zM1194.70 423.0h2.2v5.2h-2.2zM1203.50 425.3h2.2v8.6h-2.2zM1212.30 430.5h2.2v6.0h-2.2zM1225.50 398.1h2.2v4.7h-2.2zM1243.10 336.6h2.2v6.9h-2.2zM1256.30 306.0h2.2v1.0h-2.2zM1269.50 285.4h2.2v22.0h-2.2zM1273.90 308.2h2.2v12.4h-2.2zM1282.70 310.3h2.2v6.9h-2.2zM1287.10 318.9h2.2v6.9h-2.2zM1295.90 325.1h2.2v6.9h-2.2zM1300.30 331.0h2.2v5.7h-2.2zM1304.70 333.3h2.2v10.4h-2.2zM1317.90 329.0h2.2v1.0h-2.2zM1322.30 330.3h2.2v10.4h-2.2zM1326.70 340.2h2.2v8.6h-2.2zM1335.50 344.9h2.2v9.7h-2.2zM1339.90 354.5h2.2v21.1h-2.2zM1344.30 377.0h2.2v5.2h-2.2zM1353.10 374.2h2.2v9.7h-2.2z" fill="#e0593c" stroke="#84170f" stroke-width="0.85"/>
</g>
<path clip-path="url(#cm)" d="M8.0 724.5C10.8 724.2 18.0 723.6 25.0 723.0C32.0 722.4 41.7 721.6 50.0 720.8C58.3 719.9 66.7 719.1 75.0 718.0C83.3 716.9 91.7 715.6 100.0 714.2C108.3 712.9 116.7 711.3 125.0 710.0C133.3 708.7 141.7 707.5 150.0 706.2C158.3 705.0 166.7 703.7 175.0 702.5C183.3 701.3 191.7 700.0 200.0 699.0C208.3 698.0 216.7 697.2 225.0 696.2C233.3 695.3 241.7 694.4 250.0 693.5C258.3 692.6 266.7 691.5 275.0 690.8C283.3 690.0 291.7 689.2 300.0 688.8C308.3 688.2 316.7 687.9 325.0 687.8C333.3 687.6 341.7 687.7 350.0 687.8C358.3 687.8 366.7 688.0 375.0 688.2C383.3 688.5 391.7 688.8 400.0 689.0C408.3 689.2 416.7 689.2 425.0 689.5C433.3 689.8 441.7 690.4 450.0 690.8C458.3 691.1 466.7 691.5 475.0 691.8C483.3 692.0 493.8 692.4 500.0 692.5C506.2 692.6 507.5 692.3 512.5 692.5C517.5 692.7 523.8 693.3 530.0 693.8C536.2 694.2 542.5 694.4 550.0 695.0C557.5 695.6 566.7 696.6 575.0 697.5C583.3 698.4 591.7 699.5 600.0 700.5C608.3 701.5 616.7 702.5 625.0 703.5C633.3 704.5 641.7 705.4 650.0 706.2C658.3 707.1 666.7 707.9 675.0 708.8C683.3 709.6 691.7 710.5 700.0 711.2C708.3 712.0 716.7 712.5 725.0 713.0C733.3 713.5 741.7 714.1 750.0 714.5C758.3 714.9 766.7 715.3 775.0 715.5C783.3 715.7 792.9 715.7 800.0 715.5C807.1 715.3 811.5 714.3 817.5 714.0C823.5 713.8 830.0 714.1 836.3 714.0C842.5 713.9 848.8 713.9 855.0 713.4C861.3 713.0 867.5 712.5 873.8 711.6C880.0 710.6 886.3 708.9 892.5 707.8C898.8 706.7 905.0 705.7 911.3 705.0C917.5 704.3 923.8 703.8 930.0 703.5C936.3 703.2 942.5 703.4 948.8 703.1C955.0 702.9 961.3 702.4 967.5 701.8C973.8 701.3 980.0 700.4 986.3 699.8C992.5 699.1 998.8 698.7 1005.0 697.9C1011.3 697.0 1017.5 696.1 1023.8 694.7C1030.0 693.3 1036.3 691.4 1042.5 689.6C1048.8 687.8 1056.3 685.5 1061.3 683.8C1066.3 682.2 1068.4 682.6 1072.5 679.7C1076.6 676.8 1081.0 670.5 1085.9 666.2C1090.8 662.0 1096.7 657.6 1102.1 654.3C1107.5 650.9 1112.9 648.7 1118.3 646.2C1123.7 643.6 1129.1 641.5 1134.5 639.0C1139.9 636.6 1145.8 633.6 1150.7 631.6C1155.5 629.5 1159.3 630.2 1163.6 626.7C1168.0 623.2 1172.3 615.4 1176.6 610.5C1180.9 605.7 1185.2 601.9 1189.6 597.6C1193.9 593.3 1197.7 589.0 1202.5 584.6C1207.4 580.2 1213.3 576.1 1218.7 571.0C1224.1 565.9 1229.5 560.5 1234.9 553.8C1240.3 547.2 1246.8 537.9 1251.1 531.2C1255.4 524.4 1257.6 519.3 1260.8 513.4C1264.0 507.4 1266.7 501.2 1270.5 495.5C1274.3 489.9 1278.6 484.5 1283.5 479.4C1288.3 474.2 1294.3 469.4 1299.7 464.8C1305.1 460.2 1310.5 455.6 1315.9 451.8C1321.3 448.0 1326.7 444.7 1332.1 442.1C1337.5 439.5 1343.7 437.9 1348.3 436.3C1352.8 434.7 1357.7 433.0 1359.6 432.4" stroke="#7b1fa2" stroke-width="2.4" fill="none" stroke-linejoin="round" stroke-linecap="round"/>
<g clip-path="url(#cm)" fill="none" stroke-width="3.5"><path stroke="#26a69a" stroke-opacity="0.5" d="M16.6 849V846.4M29.8 849V845.5M43.0 849V842.2M56.2 849V847.2M60.6 849V847.2M65.0 849V847.2M73.8 849V832.0M78.2 849V836.9M95.8 849V846.0M104.6 849V847.2M109.0 849V839.4M113.4 849V841.6M122.2 849V846.0M131.0 849V845.3M135.4 849V841.6M144.2 849V842.2M148.6 849V843.0M157.4 849V844.3M161.8 849V843.6M179.4 849V845.7M188.2 849V847.2M197.0 849V842.5M201.4 849V845.1M205.8 849V843.0M227.8 849V847.2M232.2 849V847.2M241.0 849V847.2M245.4 849V847.2M258.6 849V846.0M280.6 849V847.0M285.0 849V845.3M289.4 849V847.0M298.2 849V847.0M307.0 849V847.0M311.4 849V846.3M315.8 849V847.0M329.0 849V846.3M342.2 849V847.0M351.0 849V840.0M355.4 849V847.0M359.8 849V845.3M364.2 849V847.0M373.0 849V846.0M381.8 849V847.0M417.0 849V837.4M421.4 849V847.0M425.8 849V847.0M430.2 849V844.7M434.6 849V844.7M461.0 849V847.0M491.8 849V847.0M496.2 849V847.0M509.4 849V843.2M513.8 849V842.3M518.2 849V845.3M527.0 849V843.5M531.4 849V838.8M535.8 849V838.3M549.0 849V834.4M557.8 849V838.8M562.2 849V838.8M575.4 849V845.3M579.8 849V846.0M606.2 849V829.9M615.0 849V835.8M623.8 849V840.4M628.2 849V843.5M641.4 849V832.1M654.6 849V824.6M659.0 849V828.6M672.2 849V836.9M681.0 849V822.5M685.4 849V810.8M711.8 849V840.0M720.6 849V843.5M725.0 849V842.1M733.8 849V843.5M742.6 849V841.8M751.4 849V831.6M764.6 849V838.8M769.0 849V841.8M773.4 849V836.2M782.2 849V819.9M786.6 849V833.0M795.4 849V829.2M804.2 849V799.4M808.6 849V823.0M835.0 849V830.1M839.4 849V825.3M843.8 849V833.5M852.6 849V832.4M857.0 849V808.6M861.4 849V805.2M870.2 849V835.3M874.6 849V820.5M879.0 849V816.4M887.8 849V792.0M923.0 849V830.1M927.4 849V782.2M945.0 849V801.3M953.8 849V830.1M962.6 849V702.3M971.4 849V738.2M975.8 849V759.9M989.0 849V826.0M993.4 849V843.1M997.8 849V815.3M1006.6 849V826.4M1015.4 849V800.8M1019.8 849V789.6M1024.2 849V769.2M1033.0 849V719.9M1037.4 849V812.7M1041.8 849V826.0M1050.6 849V812.7M1059.4 849V820.3M1068.2 849V808.2M1072.6 849V783.1M1077.0 849V804.1M1090.2 849V830.5M1112.2 849V807.3M1121.0 849V828.1M1129.8 849V815.1M1138.6 849V820.3M1147.4 849V826.2M1156.2 849V817.1M1165.0 849V727.0M1169.4 849V768.6M1182.6 849V820.3M1187.0 849V817.8M1191.4 849V820.3M1200.2 849V830.9M1209.0 849V835.1M1217.8 849V826.8M1222.2 849V740.9M1231.0 849V837.9M1235.4 849V804.1M1239.8 849V749.7M1248.6 849V830.9M1253.0 849V762.9M1261.8 849V810.0M1266.2 849V820.3M1279.4 849V826.8M1292.6 849V828.1M1310.2 849V832.7M1314.6 849V823.0M1332.2 849V835.1M1349.8 849V836.1M1358.6 849V830.1"/><path stroke="#ef5350" stroke-opacity="0.5" d="M12.2 849V847.2M21.0 849V847.2M25.4 849V847.2M34.2 849V847.2M38.6 849V847.2M47.4 849V832.0M51.8 849V847.2M69.4 849V814.2M82.6 849V847.2M87.0 849V843.4M91.4 849V843.0M100.2 849V844.6M117.8 849V844.6M126.6 849V845.3M139.8 849V835.9M153.0 849V845.7M166.2 849V845.1M170.6 849V847.2M175.0 849V847.2M183.8 849V845.7M192.6 849V847.2M210.2 849V727.9M214.6 849V787.0M219.0 849V828.9M223.4 849V844.3M236.6 849V843.4M249.8 849V825.5M254.2 849V846.0M263.0 849V844.3M267.4 849V833.4M271.8 849V833.4M276.2 849V847.2M293.8 849V847.0M302.6 849V845.8M320.2 849V847.0M324.6 849V844.7M333.4 849V847.0M337.8 849V843.5M346.6 849V843.5M368.6 849V846.0M377.4 849V844.7M386.2 849V847.0M390.6 849V847.0M395.0 849V843.5M399.4 849V847.0M403.8 849V847.0M408.2 849V847.0M412.6 849V845.3M439.0 849V847.0M443.4 849V842.3M447.8 849V847.0M452.2 849V847.0M456.6 849V847.0M465.4 849V846.3M469.8 849V846.3M474.2 849V846.3M478.6 849V846.7M483.0 849V847.0M487.4 849V847.0M500.6 849V847.0M505.0 849V847.0M522.6 849V843.5M540.2 849V836.0M544.6 849V833.4M553.4 849V842.1M566.6 849V840.0M571.0 849V842.1M584.2 849V843.5M588.6 849V843.5M593.0 849V844.2M597.4 849V844.2M601.8 849V828.1M610.6 849V830.2M619.4 849V840.4M632.6 849V835.8M637.0 849V819.2M645.8 849V832.7M650.2 849V835.1M663.4 849V839.3M667.8 849V840.4M676.6 849V814.3M689.8 849V836.2M694.2 849V839.1M698.6 849V841.1M703.0 849V844.2M707.4 849V844.9M716.2 849V840.4M729.4 849V837.4M738.2 849V843.5M747.0 849V841.8M755.8 849V830.4M760.2 849V835.1M777.8 849V828.1M791.0 849V826.0M799.8 849V826.0M813.0 849V825.7M817.4 849V834.6M821.8 849V835.5M826.2 849V830.1M830.6 849V824.6M848.2 849V836.4M865.8 849V828.3M883.4 849V800.8M892.2 849V820.7M896.6 849V815.6M901.0 849V827.5M905.4 849V776.1M909.8 849V773.5M914.2 849V828.1M918.6 849V690.2M931.8 849V795.6M936.2 849V824.6M940.6 849V841.3M949.4 849V814.2M958.2 849V834.6M967.0 849V744.5M980.2 849V797.8M984.6 849V822.7M1002.2 849V827.7M1011.0 849V797.1M1028.6 849V759.9M1046.2 849V830.1M1055.0 849V824.0M1063.8 849V833.3M1081.4 849V796.5M1085.8 849V784.4M1094.6 849V813.8M1099.0 849V832.7M1103.4 849V834.6M1107.8 849V795.2M1116.6 849V833.3M1125.4 849V819.0M1134.2 849V821.2M1143.0 849V791.1M1151.8 849V806.0M1160.6 849V817.1M1173.8 849V686.9M1178.2 849V804.1M1195.8 849V836.4M1204.6 849V830.1M1213.4 849V839.8M1226.6 849V817.1M1244.2 849V823.0M1257.4 849V811.0M1270.6 849V806.0M1275.0 849V811.2M1283.8 849V839.8M1288.2 849V828.1M1297.0 849V826.2M1301.4 849V839.0M1305.8 849V831.6M1319.0 849V833.3M1323.4 849V826.8M1327.8 849V833.8M1336.6 849V840.3M1341.0 849V812.5M1345.4 849V830.1M1354.2 849V836.1"/></g>
<g stroke="#0c0c10" stroke-width="2.6" stroke-linecap="butt"><path d="M1262.1 275.4L1402 399.4"/><path d="M1256.8 320L1389 426"/></g>
<path clip-path="url(#cr)" d="M8.0 147.4L12.2 154.6L16.6 148.4L21.0 149.0L25.4 155.6L29.8 156.4L34.2 158.0L38.6 156.0L43.0 156.6L47.4 150.0L51.8 159.0L56.2 160.4L60.6 154.0L65.0 147.0L69.4 159.6L73.8 142.0L78.2 109.0L82.6 106.0L87.0 102.6L91.4 113.6L95.8 113.6L100.2 120.4L104.6 117.0L109.0 111.6L113.4 111.0L117.8 121.0L122.2 121.0L126.6 129.0L131.0 112.0L135.4 105.0L139.8 114.0L144.2 113.4L148.6 114.6L153.0 132.0L157.4 129.0L161.8 120.4L166.2 129.0L170.6 139.0L175.0 127.0L179.4 117.0L183.8 130.0L188.2 141.6L192.6 153.4L197.0 137.0L201.4 128.0L205.8 125.0L210.2 119.6L214.6 129.0L219.0 131.0L223.4 144.4L227.8 138.0L232.2 126.0L236.6 126.0L241.0 127.6L245.4 121.0L249.8 121.6L254.2 129.0L258.6 131.6L263.0 130.0L267.4 145.4L271.8 143.0L276.2 149.0L280.6 159.6L285.0 145.0L289.4 143.0L293.8 157.6L298.2 151.0L302.6 148.4L307.0 145.0L311.4 147.0L315.8 149.0L320.2 161.0L324.6 178.0L329.0 173.0L333.4 179.0L337.8 180.4L342.2 180.6L346.6 190.6L351.0 180.0L355.4 164.4L359.8 163.0L364.2 157.4L368.6 170.0L373.0 165.6L377.4 169.4L381.8 159.4L386.2 164.6L390.6 161.4L395.0 164.0L399.4 166.0L403.8 172.0L408.2 181.0L412.6 178.0L417.0 173.0L421.4 154.0L425.8 153.4L430.2 158.0L434.6 159.0L439.0 164.4L443.4 185.0L447.8 170.0L452.2 170.0L456.6 170.4L461.0 168.6L465.4 166.0L469.8 168.0L474.2 166.6L478.6 163.6L483.0 161.4L487.4 157.0L491.8 133.0L496.2 135.0L500.6 136.6L505.0 136.6L509.4 131.4L513.8 142.0L518.2 148.0L522.6 153.4L527.0 150.0L531.4 149.0L535.8 112.4L540.2 135.0L544.6 141.6L549.0 139.0L553.4 146.0L557.8 147.4L562.2 147.4L566.6 158.4L571.0 154.6L575.4 154.6L579.8 154.8L584.2 159.0L588.6 161.6L593.0 160.0L597.4 158.4L601.8 169.4L606.2 141.4L610.6 149.6L615.0 141.4L619.4 145.6L623.8 141.4L628.2 138.6L632.6 138.2L637.0 162.0L641.4 133.6L645.8 137.0L650.2 145.4L654.6 134.0L659.0 131.6L663.4 138.0L667.8 160.0L672.2 125.6L676.6 126.0L681.0 125.4L685.4 109.6L689.8 119.0L694.2 130.6L698.6 131.4L703.0 133.6L707.4 135.6L711.8 126.0L716.2 133.6L720.6 127.0L725.0 124.6L729.4 134.4L733.8 130.0L738.2 128.4L742.6 126.4L747.0 146.4L751.4 144.4L755.8 148.4L760.2 152.0L764.6 152.0L769.0 145.0L773.4 132.6L777.8 139.0L782.2 125.0L786.6 115.6L791.0 134.4L795.4 131.0L799.8 139.4L804.2 132.0L808.6 123.4L813.0 128.6L817.4 135.0L821.8 141.0L826.2 149.0L830.6 159.0L835.0 146.0L839.4 143.0L843.8 131.6L848.2 156.4L852.6 153.6L857.0 118.6L861.4 115.6L865.8 133.6L870.2 127.0L874.6 120.6L879.0 115.4L883.4 121.4L887.8 107.4L892.2 118.0L896.6 122.0L901.0 125.6L905.4 127.6L909.8 137.4L914.2 145.6L918.6 154.4L923.0 152.0L927.4 142.4L931.8 148.0L936.2 151.0L940.6 162.0L945.0 154.6L949.4 155.6L953.8 144.0L958.2 148.0L962.6 146.0L967.0 157.0L971.4 129.6L975.8 127.4L980.2 130.0L984.6 139.0L989.0 135.6L993.4 132.0L997.8 128.6L1002.2 134.0L1006.6 127.0L1011.0 136.0L1015.4 136.4L1019.8 100.4L1024.2 102.4L1028.6 114.4L1033.0 101.0L1037.4 99.4L1041.8 97.0L1046.2 112.6L1050.6 111.4L1055.0 114.0L1059.4 102.4L1063.8 101.0L1068.2 83.0L1072.6 78.0L1077.0 60.0L1081.4 78.0L1085.8 96.0L1090.2 94.4L1094.6 98.0L1099.0 111.0L1103.4 115.6L1107.8 128.0L1112.2 116.6L1116.6 123.6L1121.0 124.0L1125.4 123.6L1129.8 115.0L1134.2 113.4L1138.6 110.6L1143.0 113.0L1147.4 110.4L1151.8 118.0L1156.2 113.6L1160.6 127.0L1165.0 92.0L1169.4 71.6L1173.8 78.0L1178.2 80.4L1182.6 80.6L1187.0 79.0L1191.4 73.0L1195.8 83.6L1200.2 82.4L1204.6 98.6L1209.0 97.0L1213.4 107.0L1217.8 102.0L1222.2 82.0L1226.6 93.0L1231.0 90.6L1235.4 80.0L1239.8 66.0L1244.2 78.0L1248.6 75.4L1253.0 65.6L1257.4 68.4L1261.8 63.0L1266.2 62.4L1270.6 101.0L1275.0 116.0L1279.4 109.0L1283.8 119.0L1288.2 126.4L1292.6 126.0L1297.0 131.0L1301.4 136.0L1305.8 141.4L1310.2 132.0L1314.6 130.0L1319.0 131.6L1323.4 141.0L1327.8 147.4L1332.2 144.0L1336.6 151.0L1341.0 163.0L1345.4 166.0L1349.8 164.4L1354.2 166.0L1358.6 154.0" stroke="#9424a8" stroke-width="1.25" fill="none" stroke-linejoin="round"/>
<g stroke="#55565b" stroke-width="1.4" fill="none">
<rect x="7.5" y="51.5" width="1585" height="831"/>
<path d="M8 199.5H1592"/>
<path d="M8 849.5H1592"/>
<path d="M1480.7 52V882"/>
</g>
<g stroke="#55565b" stroke-width="1.2" fill="none">
<path d="M1481 82.5h4.9"/>
<path d="M1481 122.5h4.9"/>
<path d="M1481 162.5h4.9"/>
<path d="M1481 201.3h4.9"/>
<path d="M1481 246.5h4.9"/>
<path d="M1481 299.3h4.9"/>
<path d="M1481 342.0h4.9"/>
<path d="M1481 425.6h4.9"/>
<path d="M1481 467.1h4.9"/>
<path d="M1481 501.6h4.9"/>
<path d="M1481 552.8h4.9"/>
<path d="M1481 593.8h4.9"/>
<path d="M1481 630.8h4.9"/>
<path d="M1481 672.0h4.9"/>
<path d="M1481 708.5h4.9"/>
<path d="M1481 749.8h4.9"/>
<path d="M1481 784.8h4.9"/>
<path d="M1481 819.9h4.9"/>
<path d="M43.0 850v5"/>
<path d="M179.4 850v5"/>
<path d="M315.8 850v5"/>
<path d="M447.8 850v5"/>
<path d="M584.2 850v5"/>
<path d="M716.2 850v5"/>
<path d="M852.6 850v5"/>
<path d="M989.0 850v5"/>
<path d="M1112.2 850v5"/>
<path d="M1248.6 850v5"/>
<path d="M1380.6 850v5"/>
<path d="M1473.0 850v5"/>
</g>
<g font-family='"Liberation Sans", "DejaVu Sans", sans-serif' font-size="12.3" fill="#535458">
<text x="1491.6" y="87.2" font-size="13" textLength="31.7" lengthAdjust="spacingAndGlyphs">80.00</text>
<text x="1491.6" y="127.2" font-size="13" textLength="31.7" lengthAdjust="spacingAndGlyphs">60.00</text>
<text x="1491.6" y="167.2" font-size="13" textLength="31.7" lengthAdjust="spacingAndGlyphs">40.00</text>
<clipPath id="c6"><rect x="1482" y="200.3" width="110" height="20"/></clipPath>
<text clip-path="url(#c6)" x="1491.6" y="206" font-size="13" textLength="86.3" lengthAdjust="spacingAndGlyphs">0.06000000000</text>
<text x="1491.6" y="251.2" font-size="13" textLength="86.3" lengthAdjust="spacingAndGlyphs">0.04000000000</text>
<text x="1491.6" y="304.0" font-size="13" textLength="86.3" lengthAdjust="spacingAndGlyphs">0.02500000000</text>
<text x="1491.6" y="346.7" font-size="13" textLength="86.3" lengthAdjust="spacingAndGlyphs">0.01700000000</text>
<text x="1491.6" y="430.3" font-size="13" textLength="86.3" lengthAdjust="spacingAndGlyphs">0.00800000000</text>
<text x="1491.6" y="471.8" font-size="13" textLength="86.3" lengthAdjust="spacingAndGlyphs">0.00550000000</text>
<text x="1491.6" y="506.3" font-size="13" textLength="86.3" lengthAdjust="spacingAndGlyphs">0.00400000000</text>
<text x="1491.6" y="557.5" font-size="13" textLength="86.3" lengthAdjust="spacingAndGlyphs">0.00250000000</text>
<text x="1491.6" y="598.5" font-size="13" textLength="86.3" lengthAdjust="spacingAndGlyphs">0.00170000000</text>
<text x="1491.6" y="635.5" font-size="13" textLength="86.3" lengthAdjust="spacingAndGlyphs">0.00120000000</text>
<text x="1491.6" y="676.7" font-size="13" textLength="86.3" lengthAdjust="spacingAndGlyphs">0.00080000000</text>
<text x="1491.6" y="713.2" font-size="13" textLength="86.3" lengthAdjust="spacingAndGlyphs">0.00055000000</text>
<text x="1491.6" y="754.5" font-size="13" textLength="86.3" lengthAdjust="spacingAndGlyphs">0.00035000000</text>
<text x="1491.6" y="789.5" font-size="13" textLength="86.3" lengthAdjust="spacingAndGlyphs">0.00023000000</text>
<text x="1491.6" y="824.6" font-size="13" textLength="86.3" lengthAdjust="spacingAndGlyphs">0.00014000000</text>
<text x="43.0" y="870.4" text-anchor="middle">Jul</text>
<text x="179.4" y="870.4" text-anchor="middle">Aug</text>
<text x="315.8" y="870.4" text-anchor="middle">Sep</text>
<text x="447.8" y="870.4" text-anchor="middle">Oct</text>
<text x="584.2" y="870.4" text-anchor="middle">Nov</text>
<text x="716.2" y="870.4" text-anchor="middle">Dec</text>
<text x="852.6" y="870.4" text-anchor="middle" font-weight="bold">2021</text>
<text x="989.0" y="870.4" text-anchor="middle">Feb</text>
<text x="1112.2" y="870.4" text-anchor="middle">Mar</text>
<text x="1248.6" y="870.4" text-anchor="middle">Apr</text>
<text x="1380.6" y="870.4" text-anchor="middle">May</text>
<text x="1479" y="870.4" text-anchor="end">22</text>
</g>
<rect x="1520" y="208.5" width="31.5" height="19" rx="3.5" fill="#f3dfce" stroke="#dcdde3" stroke-width="1"/>
<text x="1535.8" y="222.3" text-anchor="middle" font-family='"Liberation Sans", sans-serif' font-size="11.5" fill="#535458">USD</text>
<path d="M8 368.5H1418" stroke="#5c9e7c" stroke-width="1" stroke-dasharray="1.3 2.3" fill="none"/>
<rect x="1418.5" y="359" width="62" height="19" rx="2.5" fill="#6aa583"/>
<rect x="1480" y="359" width="106" height="34.5" rx="2.5" fill="#6aa583"/>
<rect x="1479" y="359" width="3" height="19" fill="#6aa583"/><rect x="1479.3" y="359" width="0.9" height="19" fill="#86b59a"/>
<path d="M1480.4 368.5h5.6" stroke="#fff" stroke-width="1.2"/>
<g font-family='"Liberation Sans", sans-serif' font-size="12.3" fill="#ffffff">
<text x="1424.7" y="373.2" textLength="47.5" lengthAdjust="spacingAndGlyphs">HOTUSD</text>
<text x="1492" y="373.2" textLength="86" lengthAdjust="spacingAndGlyphs">0.01334188870</text>
<text x="1493" y="388.8" textLength="49" lengthAdjust="spacingAndGlyphs" fill="#dcebe2">12:21:57</text>
</g>
<g font-family='"Liberation Sans", sans-serif' fill="#55575d">
<text x="18.2" y="76.3" font-size="14.6" textLength="92.5" lengthAdjust="spacingAndGlyphs">RSI (14, close)</text>
<text x="18.2" y="224.7" font-size="14.6" font-weight="bold" fill="#4b4d52" textLength="391.6" lengthAdjust="spacingAndGlyphs">Holo / US Dollar (calculated by TradingView), 1D, HITBTC</text>
<text x="18.2" y="244.6" font-size="14.6" textLength="21.8" lengthAdjust="spacingAndGlyphs">Vol</text>
<text x="18.2" y="265.1" font-size="14.6" textLength="119.3" lengthAdjust="spacingAndGlyphs">MA (100, close, 0)</text>
<text x="18.2" y="285.2" font-size="14.6" textLength="95" lengthAdjust="spacingAndGlyphs">MA (50, close)</text>
<text x="18.2" y="305.1" font-size="14.6" textLength="119.3" lengthAdjust="spacingAndGlyphs">MA (200, close, 0)</text>
<text x="18.2" y="325.1" font-size="14.6" textLength="119.3" lengthAdjust="spacingAndGlyphs">EMA (20, close, 0)</text>
</g>
<g font-family='"Liberation Sans", sans-serif' font-size="14.2" fill="#1c1c1c">
<text x="7.8" y="19.6" font-weight="bold" textLength="92.7" lengthAdjust="spacingAndGlyphs">bitcoinwallah</text>
<text x="105.8" y="19.6" textLength="402" lengthAdjust="spacingAndGlyphs">published on TradingView.com, April 26, 2021 11:38:09 UTC</text>
<text x="7.8" y="39.3" font-weight="bold" textLength="139" lengthAdjust="spacingAndGlyphs">HITBTC:HOTUSD, 1D</text>
<text x="154.3" y="39.3" textLength="102" lengthAdjust="spacingAndGlyphs">0.01334189000</text>
<path d="M261 39.2L267.2 28.8L273.4 39.2Z" fill="#2aa69a"/>
<text x="278.9" y="39.3" textLength="109.7" lengthAdjust="spacingAndGlyphs">+0.00164736004</text>
<text x="394.4" y="39.3" textLength="66" lengthAdjust="spacingAndGlyphs">(+14.09%)</text>
<text x="466.0" y="39.3" font-weight="bold" textLength="14.6" lengthAdjust="spacingAndGlyphs">O:</text>
<text x="482.5" y="39.3" fill="#2aa69a" textLength="103.1" lengthAdjust="spacingAndGlyphs">0.01165682858</text>
<text x="591.9" y="39.3" font-weight="bold" textLength="13.4" lengthAdjust="spacingAndGlyphs">H:</text>
<text x="607.5" y="39.3" fill="#2aa69a" textLength="103.1" lengthAdjust="spacingAndGlyphs">0.01446708825</text>
<text x="716.9" y="39.3" font-weight="bold" textLength="10.0" lengthAdjust="spacingAndGlyphs">L:</text>
<text x="729.4" y="39.3" fill="#2aa69a" textLength="103.1" lengthAdjust="spacingAndGlyphs">0.01154713010</text>
<text x="838.8" y="39.3" font-weight="bold" textLength="11.8" lengthAdjust="spacingAndGlyphs">C:</text>
<text x="852.8" y="39.3" fill="#2aa69a" textLength="103.1" lengthAdjust="spacingAndGlyphs">0.01334188870</text>
</g>
<g transform="translate(7,895.5)">
<path d="M6.2 17.6C2.6 17.6 0 15.2 0 12.2C0 9.4 2 7.3 4.6 6.8C5 2.9 8.2 0 12.1 0C15.1 0 17.7 1.7 18.9 4.3C19.6 4 20.4 3.9 21.2 3.9C24.6 3.9 27.3 6.3 27.8 9.5C29.7 10.2 31 11.9 31 13.8C31 16 29.2 17.6 26.9 17.6Z" fill="#2a80dc"/>
<path d="M1.5 15.6L11.2 6.6L19.2 14.5L26.8 6" stroke="#fff" stroke-width="1.3" fill="none"/>
<circle cx="11.3" cy="6.6" r="1.9" fill="#fff"/><circle cx="19.2" cy="14.4" r="1.9" fill="#fff"/>
</g>
<text x="40.7" y="908.9" font-family='"Liberation Sans", sans-serif' font-size="14.2" fill="#15181f" textLength="83" lengthAdjust="spacingAndGlyphs">TradingView</text>
</svg>
</body></html>
